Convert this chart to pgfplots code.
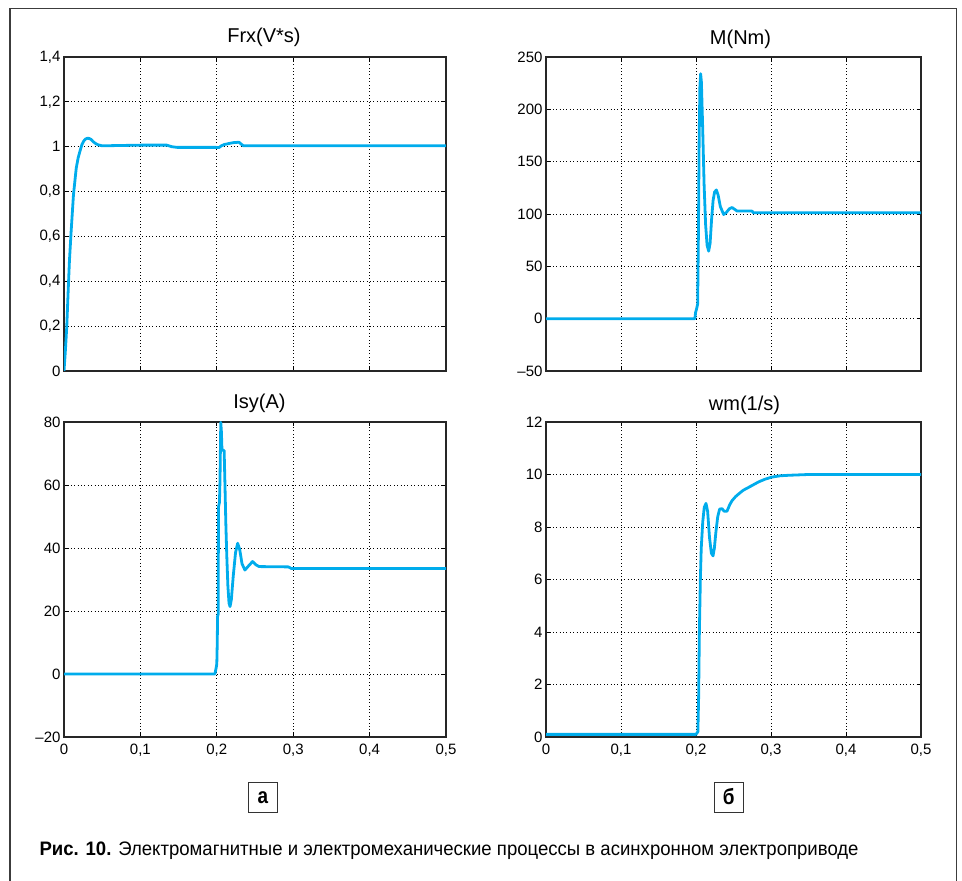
\documentclass[border=0pt]{standalone}
\usepackage{fontspec}
\setmainfont{Liberation Sans}
\newfontfamily\capfont[FakeStretch=0.952]{Liberation Sans}
\newfontfamily\boxfont[FakeStretch=0.86]{Liberation Sans}
\usepackage{pgfplots}
\pgfplotsset{compat=1.18}
\definecolor{cy}{RGB}{0,172,236}
\definecolor{fr}{RGB}{60,60,60}

\pgfplotstableread{
x y
0 0
0.0018 0.09
0.0036 0.196
0.0055 0.36
0.0071 0.49
0.0093 0.62
0.0124 0.786
0.016 0.904
0.0185 0.95
0.0213 0.985
0.0235 1.01
0.0258 1.025
0.028 1.034
0.031 1.038
0.0335 1.036
0.0356 1.032
0.038 1.023
0.041 1.015
0.045 1.008
0.05 1.004
0.1013 1.007
0.1347 1.007
0.141 1.0
0.148 0.997
0.199 0.997
0.2027 0.996
0.206 1.004
0.21 1.01
0.2213 1.018
0.229 1.02
0.2347 1.004
0.5 1.004
}\frx

\pgfplotstableread{
x y
0 0
0.1985 0
0.1995 6
0.201 10
0.2022 14
0.2032 80
0.2042 170
0.2052 222
0.2062 234
0.2072 226
0.2088 185
0.2108 128
0.2128 90
0.2148 70
0.2169 64.5
0.2188 72
0.2208 95
0.2228 113
0.2248 121
0.2272 123
0.2295 118
0.2325 107
0.2369 99.5
0.2405 101.5
0.2445 105
0.248 106.2
0.2515 104.5
0.2547 102.8
0.2747 102.8
0.2765 101.2
0.5 101.2
}\mnm

\pgfplotstableread{
x y
0 0
0.1975 0
0.1992 2
0.2 3.2
0.2006 10
0.201 18.2
0.2018 19
0.2022 53
0.2035 54.5
0.2042 62
0.2052 79.9
0.206 77
0.2068 71
0.2096 71
0.2105 62
0.2118 48
0.213 38
0.2145 28
0.216 22.5
0.2173 21.4
0.219 23.5
0.2215 31
0.2245 38.5
0.2273 41.5
0.23 39.5
0.233 35
0.2368 33
0.2415 34.3
0.2468 35.7
0.251 34.7
0.2554 34.1
0.2935 34.0
0.2975 33.5
0.5 33.5
}\isy

\pgfplotstableread{
x y
0 0.1
0.2 0.1
0.2025 0.2
0.2035 1.5
0.2045 4
0.2058 6
0.207 7.2
0.209 8.2
0.211 8.75
0.2133 8.9
0.2155 8.6
0.218 7.6
0.2205 7.0
0.2227 6.9
0.2245 7.2
0.2265 7.8
0.229 8.4
0.2315 8.68
0.2347 8.7
0.2375 8.6
0.2413 8.6
0.245 8.85
0.248 9.0
0.2525 9.15
0.2569 9.26
0.263 9.4
0.2702 9.51
0.2836 9.72
0.292 9.82
0.301 9.9
0.312 9.95
0.3236 9.97
0.35 10.0
0.5 10.0
}\wm

\pgfplotsset{
  every axis title/.style={at={(0.5,1)},anchor=base,yshift=13pt,font=\fontsize{20}{20}\selectfont},
  myax/.style={
    scale only axis, anchor=south west,
    xmin=0, xmax=0.5, xtick={0,0.1,0.2,0.3,0.4,0.5},
    grid=major,
    major grid style={black, line width=0.7pt, dash pattern=on 0.8pt off 2.6pt},
    axis line style={black!85, line width=1.1pt},
    tick align=inside, major tick length=4.5pt,
    tick style={black, line width=0.7pt},
    ticklabel style={font=\fontsize{15}{15}\selectfont},
    xticklabel style={yshift=-3pt},
    /pgf/number format/use comma,
    /pgf/number format/assume math mode=true,
  },
  cl/.style={cy, line width=2.8pt, line join=round, no markers},
}

\begin{document}
\begin{tikzpicture}
\useasboundingbox (0pt,0pt) rectangle (962pt,881pt);
\draw[fr, line width=1.4pt] (10pt,-2pt) -- (10pt,872.7pt) -- (956.7pt,872.7pt) -- (956.7pt,-2pt);

% Frx
\begin{axis}[myax, at={(64pt,510pt)}, width=382pt, height=314pt,
  ymin=0, ymax=1.4, ytick={0,0.2,0.4,0.6,0.8,1,1.2,1.4},
  xticklabels={}, title={Frx(V*s)}, title style={xshift=9pt, yshift=1.5pt}]
\addplot[cl] table {\frx};
\end{axis}

% M
\begin{axis}[myax, at={(546pt,510pt)}, width=375pt, height=314pt,
  ymin=-50, ymax=250, ytick={-50,0,50,100,150,200,250},
  yticklabels={\textendash50,0,50,100,150,200,250},
  xticklabels={}, title={M(Nm)}, title style={xshift=7pt, yshift=-1pt}]
\addplot[cl] table {\mnm};
\end{axis}

% Isy
\begin{axis}[myax, at={(64pt,144pt)}, width=382pt, height=315pt,
  ymin=-20, ymax=80, ytick={-20,0,20,40,60,80},
  yticklabels={\textendash20,0,20,40,60,80},
  title={Isy(A)}, title style={xshift=4.5pt}]
\addplot[cl] table {\isy};
\end{axis}

% wm
\begin{axis}[myax, at={(546pt,144pt)}, width=375pt, height=315pt,
  ymin=0, ymax=12, ytick={0,2,4,6,8,10,12},
  title={wm(1/s)}, title style={xshift=11pt, yshift=-1.5pt}]
\addplot[cl] table {\wm};
\end{axis}

% panel labels
\draw[black!80, line width=0.9pt] (248.3pt,68.7pt) rectangle (277.7pt,98.7pt);
\node[font=\boxfont\bfseries\fontsize{22}{22}\selectfont] at (263pt,83.2pt) {а};
\draw[black!80, line width=0.9pt] (714pt,68.7pt) rectangle (743.3pt,98.7pt);
\node[font=\boxfont\bfseries\fontsize{22}{22}\selectfont] at (728.7pt,84.5pt) {б};

% caption
\node[anchor=base west, inner sep=0pt, font=\capfont\fontsize{19.5}{19.5}\selectfont] at (39.3pt,25.5pt)
  {\textbf{Рис. 10.} Электромагнитные и электромеханические процессы в асинхронном электроприводе};
\end{tikzpicture}
\end{document}
